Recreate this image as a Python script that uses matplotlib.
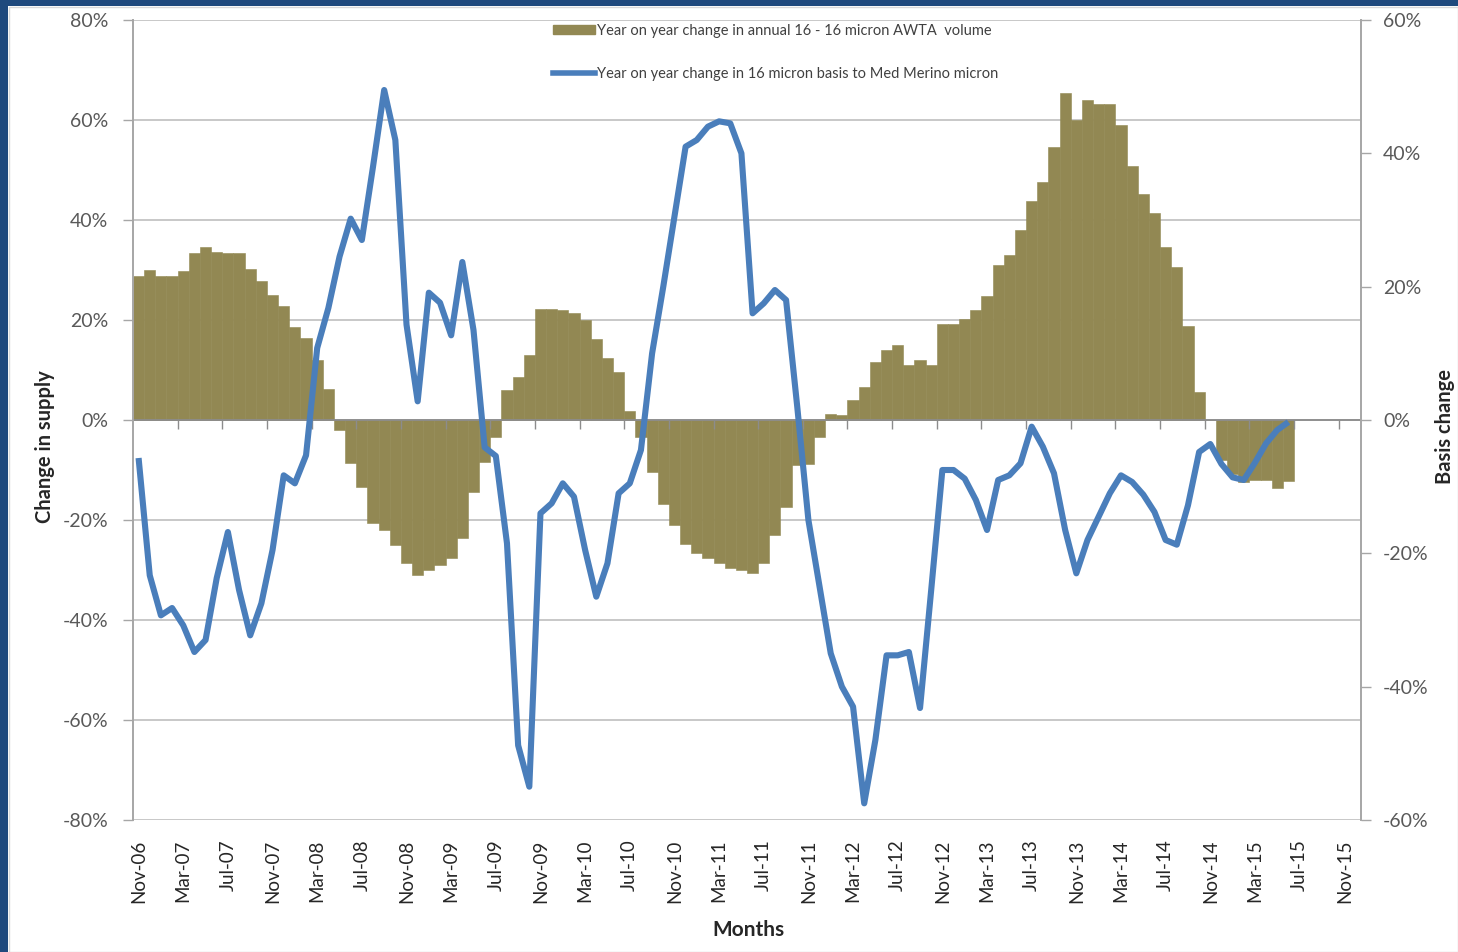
import numpy as np
import pandas as pd
import matplotlib
matplotlib.use("Agg")
import matplotlib.pyplot as plt
from matplotlib.patches import Patch, Rectangle
from matplotlib.lines import Line2D

plt.rcParams['font.family'] = ['Lato', 'DejaVu Sans']

# monthly categories, Nov-06 .. Dec-15
months = list(pd.date_range('2006-11-01', periods=110, freq='MS').strftime('%b-%y'))

# year on year change in annual 16 - 16 micron AWTA volume (%), Nov-06 .. Jun-15
supply_change = [
    28.8, 30.1, 28.8, 28.8, 29.9, 33.3, 34.5, 33.5, 33.3, 33.3, 30.3, 27.8,
    25.1, 22.9, 18.7, 16.5, 12.0, 6.2, -2.0, -8.5, -13.3, -20.5, -22.0, -25.0,
    -28.5, -31.0, -30.0, -29.0, -27.5, -23.5, -14.3, -8.3, -3.3, 6.0, 8.7, 13.0,
    22.3, 22.3, 22.0, 21.5, 20.0, 16.3, 12.5, 9.7, 1.8, -3.3, -10.3, -16.7,
    -21.0, -24.7, -26.5, -27.5, -28.5, -29.5, -30.0, -30.5, -28.5, -23.0, -17.3, -9.0,
    -8.7, -3.3, 1.3, 1.0, 4.0, 6.7, 11.7, 14.0, 15.0, 11.0, 12.0, 11.0,
    19.2, 19.2, 20.2, 22.0, 24.8, 31.0, 33.0, 38.0, 43.7, 47.6, 54.6, 65.3,
    60.0, 63.9, 63.2, 63.2, 59.0, 50.7, 45.1, 41.3, 34.6, 30.7, 18.8, 5.7,
    0.0, -8.0, -10.7, -12.3, -12.0, -12.0, -13.5, -12.1,
]

# year on year change in 16 micron basis to Med Merino micron (%)
basis_change = [
    -5.7, -23.3, -29.3, -28.2, -30.8, -34.8, -33.0, -23.7, -16.8, -25.5, -32.3, -27.5,
    -19.5, -8.3, -9.5, -5.3, 10.8, 16.8, 24.5, 30.2, 27.0, 38.0, 49.5, 42.0,
    14.3, 2.8, 19.1, 17.6, 12.7, 23.7, 13.5, -4.1, -5.4, -18.5, -48.8, -55.0,
    -14.0, -12.5, -9.5, -11.5, -19.5, -26.5, -21.5, -11.0, -9.5, -4.5, 10.0, 20.0,
    30.5, 41.0, 42.0, 44.0, 44.8, 44.5, 40.0, 16.0, 17.5, 19.5, 18.0, 2.0,
    -15.0, -25.0, -35.0, -40.0, -43.0, -57.5, -48.0, -35.3, -35.3, -34.8, -43.2, -25.5,
    -7.5, -7.5, -8.8, -12.0, -16.5, -9.0, -8.3, -6.5, -1.0, -4.0, -8.0, -16.5,
    -23.0, -18.0, -14.5, -11.0, -8.3, -9.3, -11.2, -13.8, -18.0, -18.7, -12.8, -4.8,
    -3.6, -6.6, -8.6, -9.0, -6.4, -3.5, -1.5, -0.3,
]

olive = '#928853'
blue = '#4A7EBB'
grid_grey = '#C8C8C8'
axis_grey = '#A6A6A6'

W, H = 1458, 952
fig = plt.figure(figsize=(W / 100, H / 100), dpi=100)
ax = fig.add_axes([133 / W, 132 / H, 1228 / W, 800 / H])
ax2 = ax.twinx()

x_bar = np.arange(len(supply_change))
x_line = np.arange(len(basis_change))

ax.bar(x_bar, supply_change, width=1.0, color=olive, edgecolor=olive, linewidth=0.4, zorder=2)
ax2.plot(x_line, basis_change, color=blue, lw=4.4, solid_joinstyle='round',
         solid_capstyle='butt', zorder=3)

# left axis: change in supply
ax.set_xlim(-0.5, len(months) - 0.5)
ax.set_ylim(-80, 80)
ax.set_yticks(np.arange(-80, 81, 20))
ax.yaxis.set_major_formatter(matplotlib.ticker.FuncFormatter(lambda v, p: f'{v:.0f}%'))
ax.grid(axis='y', color=grid_grey, lw=1.4, zorder=0)
ax.set_axisbelow(True)
ax.tick_params(axis='y', direction='out', length=7, width=1, color=axis_grey,
               pad=11, labelsize=14, labelcolor='#595959')

# category labels every 4 months, drawn at the bottom edge
ax.set_xticks(np.arange(0, len(months), 4))
ax.set_xticklabels(months[::4], rotation=90, fontsize=13.5, color='#262626')
ax.tick_params(axis='x', length=0, pad=14)

# horizontal axis line at zero with its tick marks
ax.axhline(0, color='#8C8C8C', lw=1.3, zorder=2.5)
ax.vlines(np.arange(3.5, len(months) - 1, 4), -1.7, 0, color='#8C8C8C', lw=1, zorder=2.5)

for side in ['top', 'bottom', 'right']:
    ax.spines[side].set_visible(False)
ax.spines['left'].set_color(axis_grey)
ax.spines['left'].set_linewidth(1.4)

# right axis: basis change
ax2.set_ylim(-60, 60)
ax2.set_yticks(np.arange(-60, 61, 20))
ax2.yaxis.set_major_formatter(matplotlib.ticker.FuncFormatter(lambda v, p: f'{v:.0f}%'))
ax2.tick_params(axis='y', direction='out', length=7, width=1, color=axis_grey,
                pad=9, labelsize=14, labelcolor='#595959')
for side in ['top', 'bottom', 'left']:
    ax2.spines[side].set_visible(False)
ax2.spines['right'].set_color(axis_grey)
ax2.spines['right'].set_linewidth(1.4)

handles = [Patch(facecolor=olive, edgecolor=olive),
           Line2D([], [], color=blue, lw=4)]
labels = ['Year on year change in annual 16 - 16 micron AWTA  volume',
          'Year on year change in 16 micron basis to Med Merino micron']
ax2.legend(handles, labels, loc='upper left', bbox_to_anchor=(553 / W, 1 - 24 / H),
           bbox_transform=fig.transFigure, frameon=False, fontsize=10.5,
           handlelength=2.9, handleheight=0.6, handletextpad=0.1,
           labelspacing=2.0, borderpad=0, borderaxespad=0,
           labelcolor='#404040')

fig.text(45 / W, 1 - 447 / H, 'Change in supply', rotation=90, ha='center', va='center',
         fontsize=14.5, fontweight='bold', color='#262626')
fig.text(1445 / W, 1 - 426 / H, 'Basis change', rotation=90, ha='center', va='center',
         fontsize=14.5, fontweight='bold', color='#262626')
fig.text(748 / W, 1 - 930 / H, 'Months', ha='center', va='center',
         fontsize=15, fontweight='bold', color='#262626')

# frame around the chart
fig.patches.append(Rectangle((9 / W, 0), 1 - 9 / W, 1 - 7 / H, transform=fig.transFigure,
                             fill=False, edgecolor='#D9D9D9', lw=1))
fig.patches.append(Rectangle((0, 0), 8 / W, 1, transform=fig.transFigure,
                             color='#1F497D', lw=0))
fig.patches.append(Rectangle((0, 1 - 6 / H), 1, 6 / H, transform=fig.transFigure,
                             color='#1F497D', lw=0))

fig.savefig('out.png', dpi=100, facecolor='white')
